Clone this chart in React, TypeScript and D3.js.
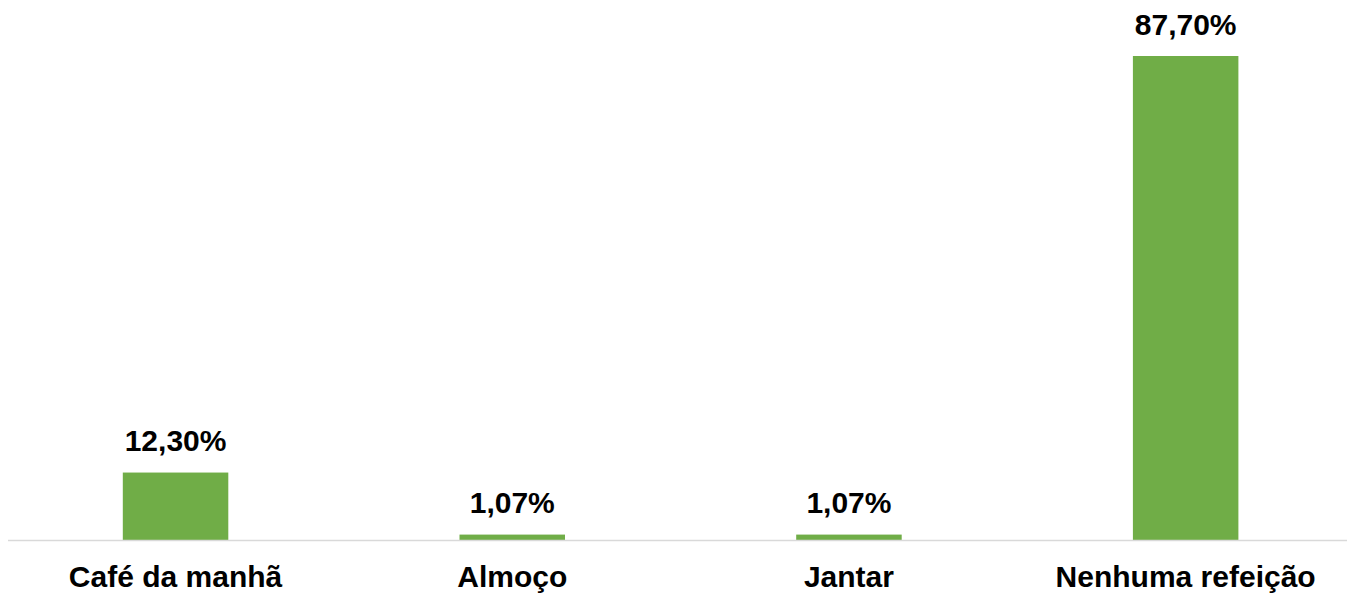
import React from "react";
import * as d3 from "d3";

const categories = ["Café da manhã", "Almoço", "Jantar", "Nenhuma refeição"];
const values = [12.3, 1.07, 1.07, 87.7];
const valueLabels = ["12,30%", "1,07%", "1,07%", "87,70%"];

const W = 1355;
const H = 594;
const left = 8;
const right = 1347;
const baseY = 540.5;
const topY = 56;

export default function App() {
  const x = d3.scaleBand<string>().domain(categories).range([7.2, 1354]).padding(0);
  const y = d3.scaleLinear().domain([0, 87.7]).range([baseY, topY]);
  const bw = 105.5;
  const font = "'Liberation Sans', Arial, sans-serif";
  return (
    <svg
      width={W}
      height={H}
      style={{ position: "absolute", left: 0, top: 0, background: "#fff" }}
    >
      {categories.map((c, i) => {
        const cx = (x(c) as number) + x.bandwidth() / 2;
        const yt = y(values[i]);
        return (
          <g key={c}>
            <rect x={cx - bw / 2} y={yt} width={bw} height={baseY - yt} fill="#70ad47" />
            <text
              x={cx}
              y={yt - 21.5}
              textAnchor="middle"
              fontFamily={font}
              fontWeight="bold"
              fontSize={30}
              fill="#000"
            >
              {valueLabels[i]}
            </text>
            <text
              x={cx}
              y={587}
              textAnchor="middle"
              fontFamily={font}
              fontWeight="bold"
              fontSize={30}
              fill="#000"
            >
              {c}
            </text>
          </g>
        );
      })}
      <line x1={left} x2={right} y1={baseY} y2={baseY} stroke="#d9d9d9" strokeWidth={1.5} />
    </svg>
  );
}
